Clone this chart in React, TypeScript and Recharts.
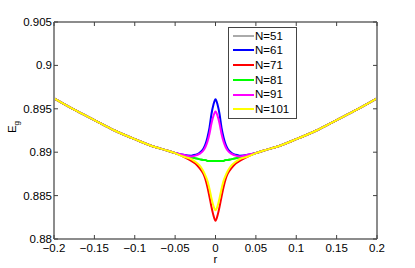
import React from 'react';
import { LineChart, Line, XAxis, YAxis, Legend } from 'recharts';

const rValues = [
  -0.2, -0.175, -0.15, -0.125, -0.1, -0.075, -0.06, -0.05, -0.04, -0.03, -0.025, -0.02, -0.015, -0.0125, -0.01, -0.0075, -0.005, -0.0025, 0,
  0.0025, 0.005, 0.0075, 0.01, 0.0125, 0.015, 0.02, 0.025, 0.03, 0.04, 0.05, 0.06, 0.075, 0.1, 0.125, 0.15, 0.175, 0.2,
];

const n51 = [
  0.8962, 0.8949, 0.8937, 0.8925, 0.8915, 0.8906, 0.8902, 0.8899, 0.8896, 0.8894, 0.8893, 0.8892, 0.8891, 0.8891, 0.889, 0.889, 0.889, 0.889, 0.889,
  0.889, 0.889, 0.889, 0.889, 0.8891, 0.8891, 0.8892, 0.8893, 0.8894, 0.8896, 0.8899, 0.8902, 0.8906, 0.8915, 0.8925, 0.8937, 0.8949, 0.8962,
];
const n61 = [
  0.8962, 0.8949, 0.8937, 0.8925, 0.8915, 0.8906, 0.8902, 0.8899, 0.8897, 0.8896, 0.8897, 0.8899, 0.8904, 0.8909, 0.8917, 0.8928, 0.8944, 0.8955, 0.8961,
  0.8955, 0.8944, 0.8928, 0.8917, 0.8909, 0.8904, 0.8899, 0.8897, 0.8896, 0.8897, 0.8899, 0.8902, 0.8906, 0.8915, 0.8925, 0.8937, 0.8949, 0.8962,
];
const n71 = [
  0.8962, 0.8949, 0.8937, 0.8925, 0.8915, 0.8906, 0.8902, 0.8899, 0.8895, 0.889, 0.8887, 0.8882, 0.8875, 0.8869, 0.886, 0.8849, 0.8837, 0.8827, 0.8821,
  0.8827, 0.8837, 0.8849, 0.886, 0.8869, 0.8875, 0.8882, 0.8887, 0.889, 0.8895, 0.8899, 0.8902, 0.8906, 0.8915, 0.8925, 0.8937, 0.8949, 0.8962,
];
const n81 = [
  0.8962, 0.8949, 0.8937, 0.8925, 0.8915, 0.8906, 0.8902, 0.8899, 0.8896, 0.8894, 0.8893, 0.8892, 0.8891, 0.8891, 0.889, 0.889, 0.889, 0.889, 0.889,
  0.889, 0.889, 0.889, 0.889, 0.8891, 0.8891, 0.8892, 0.8893, 0.8894, 0.8896, 0.8899, 0.8902, 0.8906, 0.8915, 0.8925, 0.8937, 0.8949, 0.8962,
];
const n91 = [
  0.8962, 0.8949, 0.8937, 0.8925, 0.8915, 0.8906, 0.8902, 0.8899, 0.8897, 0.8895, 0.8896, 0.8898, 0.8902, 0.8906, 0.8912, 0.8921, 0.8933, 0.8942, 0.8947,
  0.8942, 0.8933, 0.8921, 0.8912, 0.8906, 0.8902, 0.8898, 0.8896, 0.8895, 0.8897, 0.8899, 0.8902, 0.8906, 0.8915, 0.8925, 0.8937, 0.8949, 0.8962,
];
const n101 = [
  0.8962, 0.8949, 0.8937, 0.8925, 0.8915, 0.8906, 0.8902, 0.8899, 0.8895, 0.8892, 0.8889, 0.8885, 0.8878, 0.8873, 0.8867, 0.8858, 0.8847, 0.8838, 0.8833,
  0.8838, 0.8847, 0.8858, 0.8867, 0.8873, 0.8878, 0.8885, 0.8889, 0.8892, 0.8895, 0.8899, 0.8902, 0.8906, 0.8915, 0.8925, 0.8937, 0.8949, 0.8962,
];

const seriesNames = ['N=51', 'N=61', 'N=71', 'N=81', 'N=91', 'N=101'];
const seriesKeys = ['n51', 'n61', 'n71', 'n81', 'n91', 'n101'];
const seriesColors = ['#aaaaaa', '#0000ff', '#ff0000', '#00ff00', '#ff00ff', '#ffff00'];
const seriesValues = [n51, n61, n71, n81, n91, n101];

const xTicks = [-0.2, -0.15, -0.1, -0.05, 0, 0.05, 0.1, 0.15, 0.2];
const xTickLabels = ['\u22120.2', '\u22120.15', '\u22120.1', '\u22120.05', '0', '0.05', '0.1', '0.15', '0.2'];
const yTicks = [0.88, 0.885, 0.89, 0.895, 0.9, 0.905];
const yTickLabels = ['0.88', '0.885', '0.89', '0.895', '0.9', '0.905'];

const data = rValues.map((r, i) => {
  const row: any = { r };
  seriesKeys.forEach((k, j) => {
    row[k] = seriesValues[j][i];
  });
  return row;
});

const FONT = '"Liberation Sans", Arial, Helvetica, sans-serif';
const FS = 11.5;
const AXIS_COLOR = '#8c8c8c';
const TICK_COLOR = '#404040';

const labelFor = (ticks: number[], labels: string[], v: number) => {
  const idx = ticks.findIndex((t) => Math.abs(t - v) < 1e-9);
  return idx >= 0 ? labels[idx] : String(v);
};

const BottomTick = (props: any) => {
  const { x, y, payload } = props;
  return (
    <g>
      <line x1={x} y1={y} x2={x} y2={y - 4} stroke={TICK_COLOR} strokeWidth={1} />
      <text x={x} y={y + 13} textAnchor="middle" fontFamily={FONT} fontSize={FS} fill="#000">
        {labelFor(xTicks, xTickLabels, payload.value)}
      </text>
    </g>
  );
};

const TopTick = (props: any) => {
  const { x, y } = props;
  return <line x1={x} y1={y} x2={x} y2={y + 4} stroke={TICK_COLOR} strokeWidth={1} />;
};

const LeftTick = (props: any) => {
  const { x, y, payload } = props;
  return (
    <g>
      <line x1={x + 2} y1={y} x2={x + 6} y2={y} stroke={TICK_COLOR} strokeWidth={1} />
      <text x={x} y={y + 4} textAnchor="end" fontFamily={FONT} fontSize={FS} fill="#000">
        {labelFor(yTicks, yTickLabels, payload.value)}
      </text>
    </g>
  );
};

const RightTick = (props: any) => {
  const { x, y } = props;
  return <line x1={x} y1={y} x2={x - 4} y2={y} stroke={TICK_COLOR} strokeWidth={1} />;
};

const renderLegend = (props: any) => {
  const payload = props.payload || [];
  const items = seriesNames
    .map((n) => payload.find((p: any) => p.value === n))
    .filter(Boolean);
  return (
    <div
      style={{
        position: 'relative',
        width: 69,
        height: 92,
        boxSizing: 'border-box',
        border: '1px solid #444',
        background: '#fff',
        fontFamily: FONT,
        fontSize: FS,
      }}
    >
      {items.map((p: any, i: number) => (
        <div
          key={p.value}
          style={{ position: 'absolute', left: 0, top: 0.5 + i * 14.7, height: 14.7, width: 67 }}
        >
          <div
            style={{
              position: 'absolute',
              left: 3.5,
              top: 6.3,
              width: 21,
              height: 2,
              background: p.color,
            }}
          />
          <div
            style={{
              position: 'absolute',
              left: 26,
              top: 0,
              lineHeight: '14.7px',
              color: '#000',
              whiteSpace: 'nowrap',
            }}
          >
            {p.value}
          </div>
        </div>
      ))}
    </div>
  );
};

export default function App() {
  return (
    <div style={{ position: 'absolute', left: 0, top: 0, width: 415, height: 268, background: '#fff' }}>
      <LineChart
        width={415}
        height={268}
        data={data}
        margin={{ top: 21, right: 37, bottom: 0, left: 0 }}
      >
        <XAxis
          dataKey="r"
          type="number"
          domain={[-0.2, 0.2]}
          ticks={xTicks}
          interval={0}
          allowDataOverflow
          height={29}
          tickSize={0}
          tickMargin={0}
          tick={BottomTick}
          axisLine={{ stroke: AXIS_COLOR, strokeWidth: 2 }}
          tickLine={false}
          label={{
            content: (p: any) => {
              const vb = p.viewBox || {};
              return (
                <text
                  x={(vb.x || 0) + (vb.width || 0) / 2}
                  y={263}
                  textAnchor="middle"
                  fontFamily={FONT}
                  fontSize={FS}
                  fill="#000"
                >
                  r
                </text>
              );
            },
          }}
        />
        <XAxis
          xAxisId="top"
          orientation="top"
          dataKey="r"
          type="number"
          domain={[-0.2, 0.2]}
          ticks={xTicks}
          interval={0}
          allowDataOverflow
          height={1}
          tickSize={0}
          tickMargin={0}
          tick={TopTick}
          axisLine={{ stroke: AXIS_COLOR, strokeWidth: 2 }}
          tickLine={false}
        />
        <YAxis
          type="number"
          domain={[0.88, 0.905]}
          ticks={yTicks}
          interval={0}
          allowDataOverflow
          width={54}
          tickSize={0}
          tickMargin={2}
          tick={LeftTick}
          axisLine={{ stroke: AXIS_COLOR, strokeWidth: 2 }}
          tickLine={false}
          label={{
            content: () => (
              <text
                x={15.5}
                y={127}
                transform="rotate(-90, 15.5, 127)"
                textAnchor="middle"
                fontFamily={FONT}
                fontSize={FS}
                fill="#000"
              >
                E
                <tspan dy={3} fontSize={8}>
                  g
                </tspan>
              </text>
            ),
          }}
        />
        <YAxis
          yAxisId="right"
          orientation="right"
          type="number"
          domain={[0.88, 0.905]}
          ticks={yTicks}
          interval={0}
          allowDataOverflow
          width={1}
          tickSize={0}
          tickMargin={0}
          tick={RightTick}
          axisLine={{ stroke: AXIS_COLOR, strokeWidth: 2 }}
          tickLine={false}
        />
        <Legend
          layout="vertical"
          align="center"
          verticalAlign="middle"
          content={renderLegend}
          wrapperStyle={{ position: 'absolute', left: 228, top: 27, width: 69, height: 92 }}
        />
        {seriesKeys.map((k, i) => (
          <Line
            key={k}
            dataKey={k}
            name={seriesNames[i]}
            type="monotone"
            stroke={seriesColors[i]}
            strokeWidth={2}
            dot={false}
            activeDot={false}
            isAnimationActive={false}
          />
        ))}
      </LineChart>
    </div>
  );
}
